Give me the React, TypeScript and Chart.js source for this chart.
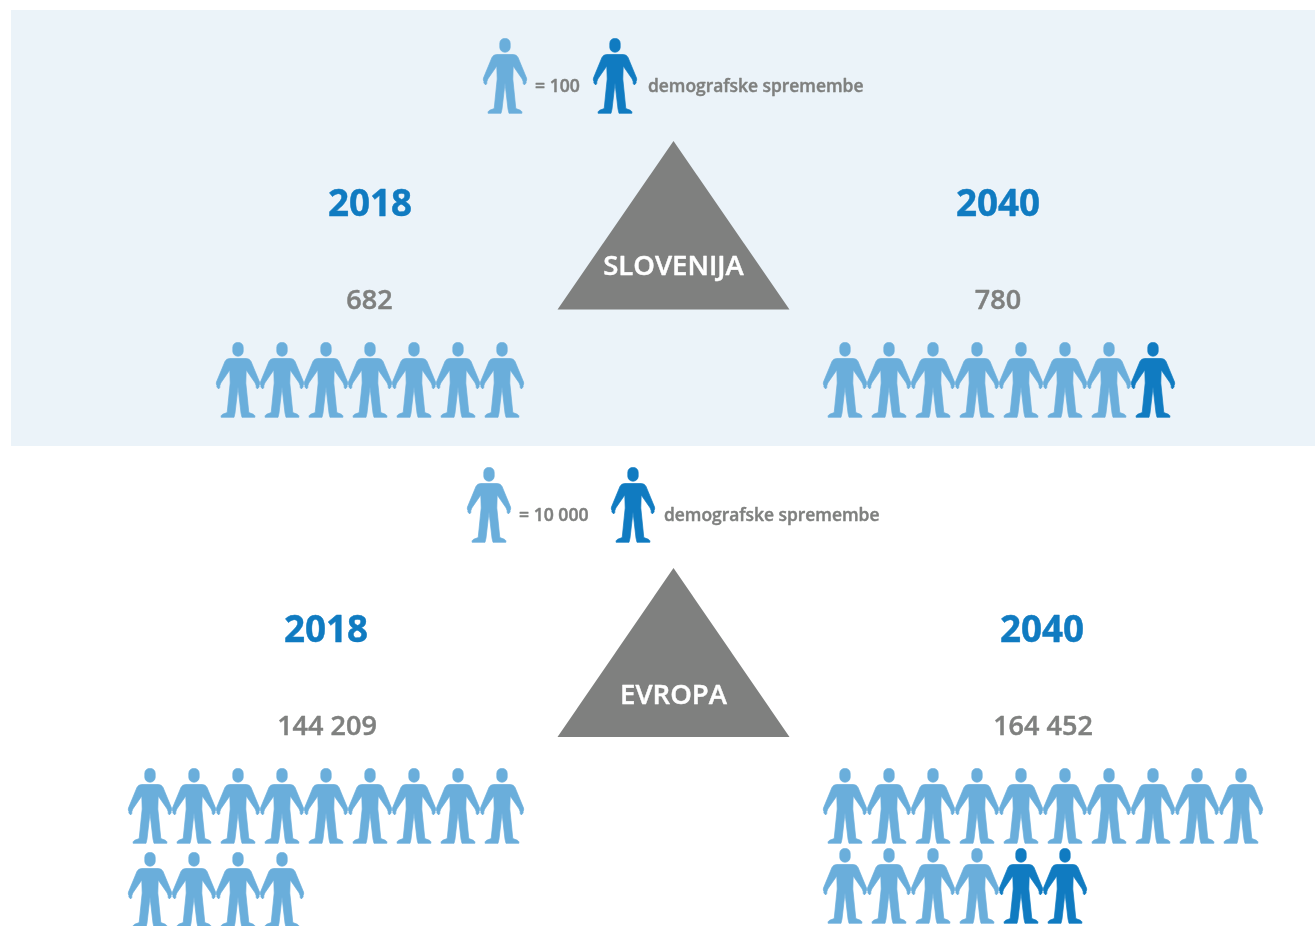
import React, { useEffect, useRef } from "react";
import { Chart, registerables } from "chart.js";

Chart.register(...registerables);

const WIDTH = 1315;
const HEIGHT = 926;

const years = ["2018", "2040"];
const regions = ["SLOVENIJA", "EVROPA"];
const sloveniaValues = ["682", "780"];
const europeValues = ["144 209", "164 452"];
const sloveniaUnit = "= 100";
const europeUnit = "= 10 000";
const changeLabel = "demografske spremembe";

const slovenia2018Rows = ["LLLLLLL"];
const slovenia2040Rows = ["LLLLLLLD"];
const europe2018Rows = ["LLLLLLLLL", "LLLL"];
const europe2040Rows = ["LLLLLLLLLL", "LLLLDD"];

const LIGHT = "#6AAEDB";
const DARK = "#107BC1";
const GREY = "#7F807F";
const PANEL = "#EBF3F9";
const FONT = '"Open Sans", sans-serif';

function makePerson(color: string): HTMLCanvasElement {
  const c = document.createElement("canvas");
  c.width = 46;
  c.height = 76;
  const g = c.getContext("2d")!;
  g.translate(1, 0);
  g.fillStyle = color;
  g.strokeStyle = color;
  g.lineWidth = 0.7;
  g.lineJoin = "round";
  g.beginPath();
  g.roundRect(16.8, 0.4, 10.4, 13.8, 5);
  g.fill();
  g.stroke();
  const left: [number, number][] = [
    [22, 16.5], [13.5, 16.5], [10.8, 17.3], [9, 19.4], [0.5, 40], [0.3, 42], [0.9, 43.3],
    [0.9, 45], [2.6, 46.9], [3.7, 45.8], [3.9, 43.5], [4.8, 41], [13.8, 28], [14.2, 41],
    [11.2, 70.6], [6.7, 72.2], [5.1, 73.8], [5.1, 75.3], [18, 75.3], [19, 71], [22, 45],
  ];
  g.beginPath();
  left.forEach(([x, y], i) => (i ? g.lineTo(x, y) : g.moveTo(x, y)));
  [...left].reverse().forEach(([x, y]) => g.lineTo(44 - x, y));
  g.closePath();
  g.fill();
  g.stroke();
  return c;
}

type Pt = { x: number; y: number };

function rowPoints(rows: string[], startX: number, topRowY: number, rowGap: number, kind: string): Pt[] {
  const pts: Pt[] = [];
  rows.forEach((row, r) => {
    row.split("").forEach((k, i) => {
      if (k === kind) pts.push({ x: startX + i * 44, y: topRowY + r * rowGap });
    });
  });
  return pts;
}

function triangle(apexX: number, apexY: number, halfW: number, baseY: number): Pt[] {
  return [
    { x: apexX, y: apexY },
    { x: apexX + halfW, y: baseY },
    { x: apexX - halfW, y: baseY },
  ];
}

type Txt = { t: string; x: number; y: number; size: number; color: string; weight: number; align: CanvasTextAlign };

const texts: Txt[] = [
  { t: sloveniaUnit, x: 535, y: 87, size: 17.6, color: GREY, weight: 600, align: "left" },
  { t: changeLabel, x: 648, y: 87, size: 17.4, color: GREY, weight: 600, align: "left" },
  { t: years[0], x: 370, y: 206, size: 36.8, color: DARK, weight: 700, align: "center" },
  { t: years[1], x: 998, y: 206, size: 36.8, color: DARK, weight: 700, align: "center" },
  { t: sloveniaValues[0], x: 369.5, y: 301, size: 27, color: GREY, weight: 600, align: "center" },
  { t: sloveniaValues[1], x: 998, y: 301, size: 27, color: GREY, weight: 600, align: "center" },
  { t: regions[0], x: 673.5, y: 267, size: 27.5, color: "#FFFFFF", weight: 600, align: "center" },
  { t: europeUnit, x: 519, y: 516, size: 17.6, color: GREY, weight: 600, align: "left" },
  { t: changeLabel, x: 664, y: 516, size: 17.4, color: GREY, weight: 600, align: "left" },
  { t: years[0], x: 326, y: 632, size: 36.8, color: DARK, weight: 700, align: "center" },
  { t: years[1], x: 1042, y: 632, size: 36.8, color: DARK, weight: 700, align: "center" },
  { t: europeValues[0], x: 327, y: 727, size: 27, color: GREY, weight: 600, align: "center" },
  { t: europeValues[1], x: 1043, y: 727, size: 27, color: GREY, weight: 600, align: "center" },
  { t: regions[1], x: 673.5, y: 696, size: 27.5, color: "#FFFFFF", weight: 600, align: "center" },
];

const textPlugin = {
  id: "infographicText",
  afterDatasetsDraw(chart: any) {
    const { ctx, scales } = chart;
    ctx.save();
    ctx.textBaseline = "middle";
    ctx.lineJoin = "round";
    ctx.lineWidth = 0.45;
    for (const l of texts) {
      ctx.font = `${l.weight} ${l.size}px ${FONT}`;
      ctx.fillStyle = l.color;
      ctx.strokeStyle = l.color;
      ctx.textAlign = l.align;
      const px = scales.x.getPixelForValue(l.x);
      const py = scales.y.getPixelForValue(l.y);
      ctx.fillText(l.t, px, py);
      ctx.strokeText(l.t, px, py);
    }
    ctx.restore();
  },
};

export default function App() {
  const ref = useRef<HTMLCanvasElement>(null);

  useEffect(() => {
    const light = makePerson(LIGHT);
    const dark = makePerson(DARK);

    const shape = (data: Pt[], color: string, order: number) => ({
      type: "line" as const,
      data,
      order,
      showLine: true,
      fill: "shape",
      backgroundColor: color,
      borderColor: color,
      borderWidth: 0,
      pointRadius: 0,
      tension: 0,
    });
    const people = (data: Pt[], img: HTMLCanvasElement) => ({
      type: "scatter" as const,
      data,
      order: 1,
      pointStyle: img,
      pointRadius: 20,
      pointHoverRadius: 20,
      backgroundColor: "transparent",
      borderWidth: 0,
    });

    const groups: [string[], number, number, number][] = [
      [slovenia2018Rows, 238, 380, 84],
      [slovenia2040Rows, 845, 380, 84],
      [europe2018Rows, 150, 806, 84],
      [europe2040Rows, 845, 806, 80],
    ];

    const chart = new Chart(ref.current!, {
      type: "scatter",
      data: {
        datasets: [
          shape(
            [
              { x: 11, y: 10 },
              { x: WIDTH, y: 10 },
              { x: WIDTH, y: 446 },
              { x: 11, y: 446 },
            ],
            PANEL,
            3
          ),
          shape(triangle(673.5, 141, 116, 309.5), GREY, 2),
          shape(triangle(673.5, 568, 116, 737), GREY, 2),
          people([{ x: 505, y: 76 }, { x: 489, y: 505 }], light),
          people([{ x: 615, y: 76 }, { x: 633, y: 505 }], dark),
          ...groups.flatMap(([rows, x, y, gap]) => [
            people(rowPoints(rows, x, y, gap, "L"), light),
            people(rowPoints(rows, x, y, gap, "D"), dark),
          ]),
        ] as any,
      },
      options: {
        animation: false,
        responsive: false,
        events: [],
        layout: { padding: 0, autoPadding: false },
        plugins: { legend: { display: false }, tooltip: { enabled: false } },
        scales: {
          x: { type: "linear", display: false, min: 0, max: WIDTH },
          y: { type: "linear", display: false, min: 0, max: HEIGHT, reverse: true },
        },
      },
      plugins: [textPlugin],
    } as any);
    return () => chart.destroy();
  }, []);

  return (
    <div style={{ position: "absolute", left: 0, top: 0, width: WIDTH, height: HEIGHT, background: "#fff" }}>
      <canvas ref={ref} width={WIDTH} height={HEIGHT} style={{ display: "block" }} />
    </div>
  );
}
